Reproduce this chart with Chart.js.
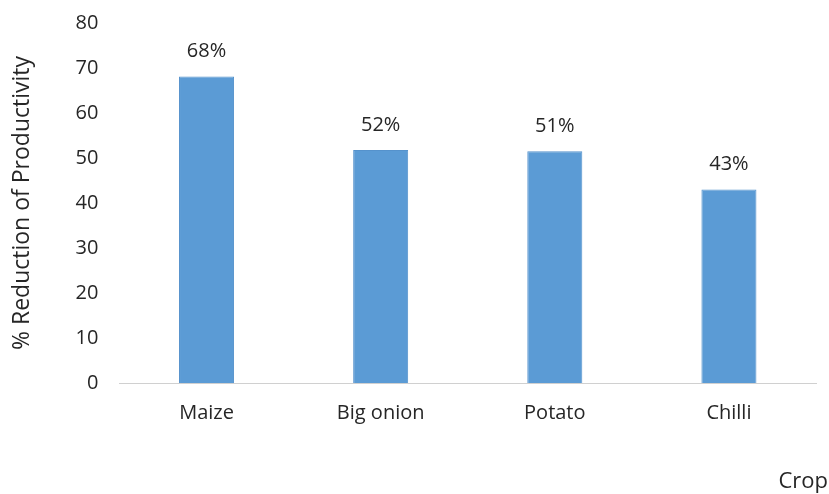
<!DOCTYPE html>
<html><head><meta charset="utf-8">
<script src="https://cdn.jsdelivr.net/npm/chart.js@4/dist/chart.umd.min.js"></script>
<style>html,body{margin:0;padding:0;background:#fff}#wrap{width:829px;height:494px}</style>
</head><body><div id="wrap"><canvas id="c" width="829" height="494"></canvas></div>
<script>
const categories = ["Maize", "Big onion", "Potato", "Chilli"];
const reductionValues = [68.1, 51.8, 51.5, 43.0];
const valueLabels = ["68%", "52%", "51%", "43%"];
const yTicks = [0, 10, 20, 30, 40, 50, 60, 70, 80];
const xAxisTitle = "Crop";
const yAxisTitle = "% Reduction of Productivity";

const FONT = "'Open Sans', 'Liberation Sans', sans-serif";
const TEXT = "#262626";

const labelPlugin = {
  id: 'barLabels',
  afterDatasetsDraw(chart) {
    const ctx = chart.ctx;
    const meta = chart.getDatasetMeta(0);
    ctx.save();
    ctx.font = "20px " + FONT;
    ctx.fillStyle = TEXT;
    ctx.textAlign = 'center';
    ctx.textBaseline = 'middle';
    meta.data.forEach((bar, i) => {
      ctx.fillText(valueLabels[i], bar.x, bar.y - 25);
    });
    // x-axis title, placed at the far right bottom corner as in the reference
    ctx.font = "22px " + FONT;
    ctx.textAlign = 'right';
    ctx.fillText(xAxisTitle, chart.width - 1, chart.height - 12);
    ctx.restore();
  }
};

new Chart(document.getElementById('c'), {
  type: 'bar',
  data: {
    labels: categories,
    datasets: [{
      data: reductionValues,
      backgroundColor: '#5b9bd5',
      borderColor: '#5592cc',
      borderWidth: 1,
      categoryPercentage: 1,
      barPercentage: 0.316
    }]
  },
  options: {
    responsive: false,
    animation: false,
    layout: { padding: { left: 9, right: 13, top: 23, bottom: 51 } },
    plugins: { legend: { display: false }, tooltip: { enabled: false } },
    scales: {
      x: {
        grid: { display: false, drawTicks: false },
        border: { display: true, color: '#d0d0d0', width: 1 },
        ticks: { color: TEXT, font: { family: FONT, size: 20 }, padding: 18 }
      },
      y: {
        min: 0, max: 80,
        afterBuildTicks(scale) { scale.ticks = yTicks.map(v => ({ value: v })); },
        afterFit(scale) { scale.paddingTop = 0; },
        grid: { display: false, drawTicks: false },
        border: { display: false },
        ticks: { color: TEXT, font: { family: FONT, size: 20 }, padding: 21 },
        title: { display: true, text: yAxisTitle, color: TEXT,
                 font: { family: FONT, size: 23 }, padding: { top: 0, bottom: 18 } }
      }
    }
  },
  plugins: [labelPlugin]
});
</script></body></html>
